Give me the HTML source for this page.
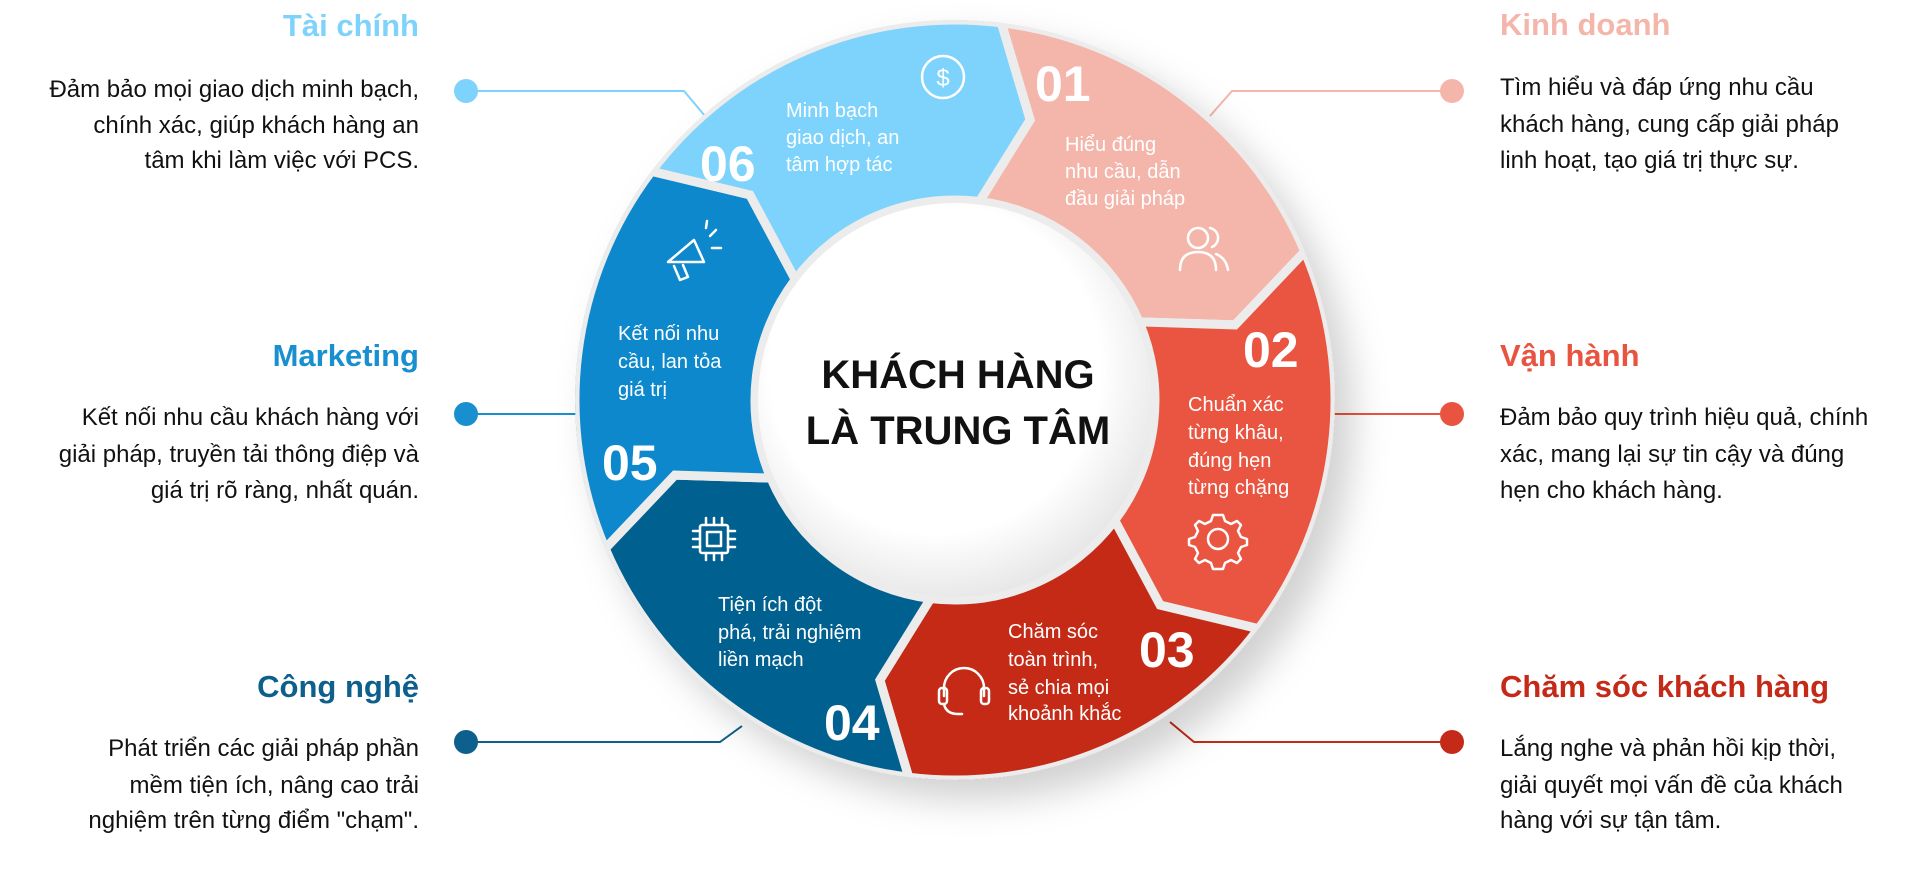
<!DOCTYPE html>
<html><head><meta charset="utf-8"><style>
html,body{margin:0;padding:0;background:#fff;}
svg{display:block;}
text{font-family:"Liberation Sans",sans-serif;}
.t{font-size:31px;font-weight:bold;}
.b{font-size:24px;fill:#111;}
.w{fill:#fff;font-size:20px;}
.n{fill:#fff;font-size:50px;font-weight:bold;}
.ic{fill:none;stroke:#fff;stroke-width:2.5;stroke-linecap:round;stroke-linejoin:round;}
</style></head><body>
<svg width="1920" height="891" viewBox="0 0 1920 891" xmlns="http://www.w3.org/2000/svg">
<defs>
<filter id="sh" x="-20%" y="-20%" width="150%" height="150%"><feDropShadow dx="18" dy="20" stdDeviation="18" flood-color="#000" flood-opacity="0.18"/></filter>
<radialGradient id="cg" cx="0.45" cy="0.42" r="0.6"><stop offset="0.7" stop-color="#fff"/><stop offset="1" stop-color="#e6e6e6"/></radialGradient>
<clipPath id="rc"><circle cx="955" cy="400" r="380"/></clipPath>
</defs>
<!-- connectors -->
<g fill="none" stroke-width="2">
<polyline points="466,91 684,91 705,116" stroke="#7dd3fb"/>
<polyline points="466,414 580,414" stroke="#1a8fd0"/>
<polyline points="466,742 720,742 742,726" stroke="#0d5f8c"/>
<polyline points="1452,91 1232,91 1210,116" stroke="#f4b6ab"/>
<polyline points="1452,414 1330,414" stroke="#e95440"/>
<polyline points="1452,742 1194,742 1170,722" stroke="#c42a17"/>
</g>
<circle cx="466" cy="91" r="12" fill="#7dd3fb"/>
<circle cx="466" cy="414" r="12" fill="#1a8fd0"/>
<circle cx="466" cy="742" r="12" fill="#0d5f8c"/>
<circle cx="1452" cy="91" r="12" fill="#f4b6ab"/>
<circle cx="1452" cy="414" r="12" fill="#e95440"/>
<circle cx="1452" cy="742" r="12" fill="#c42a17"/>
<!-- ring -->
<g filter="url(#sh)"><g clip-path="url(#rc)" stroke="#ececec" stroke-width="9" stroke-linejoin="miter">
<path fill="#f4b6ab" d="M1001.3,22.8 A380,380 0 0 1 1304.8,251.5 L1235.1,324.9 L1139.1,321.9 A200,200 0 0 0 979.4,201.5 L1030.1,119.9 Z"/>
<path fill="#e95440" d="M1304.8,251.5 A380,380 0 0 1 1258.5,628.7 L1160.1,605.1 L1114.7,520.4 A200,200 0 0 0 1139.1,321.9 L1235.1,324.9 Z"/>
<path fill="#c42a17" d="M1258.5,628.7 A380,380 0 0 1 908.7,777.2 L879.9,680.1 L930.6,598.5 A200,200 0 0 0 1114.7,520.4 L1160.1,605.1 Z"/>
<path fill="#06608f" d="M908.7,777.2 A380,380 0 0 1 605.2,548.5 L674.9,475.1 L770.9,478.1 A200,200 0 0 0 930.6,598.5 L879.9,680.1 Z"/>
<path fill="#0a88cc" d="M605.2,548.5 A380,380 0 0 1 651.5,171.3 L749.9,194.9 L795.3,279.6 A200,200 0 0 0 770.9,478.1 L674.9,475.1 Z"/>
<path fill="#7dd3fb" d="M651.5,171.3 A380,380 0 0 1 1001.3,22.8 L1030.1,119.9 L979.4,201.5 A200,200 0 0 0 795.3,279.6 L749.9,194.9 Z"/>
</g></g>
<circle cx="955" cy="400" r="197" fill="url(#cg)"/>
<text x="958" y="388" text-anchor="middle" font-size="40" font-weight="bold" fill="#111">KHÁCH HÀNG</text>
<text x="958" y="444" text-anchor="middle" font-size="40" font-weight="bold" fill="#111">LÀ TRUNG TÂM</text>
<!-- segment numbers -->
<text class="n" x="1035" y="101">01</text>
<text class="n" x="1243" y="367">02</text>
<text class="n" x="1139" y="667">03</text>
<text class="n" x="824" y="740">04</text>
<text class="n" x="602" y="480">05</text>
<text class="n" x="700" y="181">06</text>
<!-- segment texts -->
<text class="w"><tspan x="1065" y="151">Hiểu đúng</tspan><tspan x="1065" y="178">nhu cầu, dẫn</tspan><tspan x="1065" y="205">đầu giải pháp</tspan></text>
<text class="w"><tspan x="1188" y="411">Chuẩn xác</tspan><tspan x="1188" y="439">từng khâu,</tspan><tspan x="1188" y="467">đúng hẹn</tspan><tspan x="1188" y="494">từng chặng</tspan></text>
<text class="w"><tspan x="1008" y="638">Chăm sóc</tspan><tspan x="1008" y="666">toàn trình,</tspan><tspan x="1008" y="694">sẻ chia mọi</tspan><tspan x="1008" y="720">khoảnh khắc</tspan></text>
<text class="w"><tspan x="718" y="611">Tiện ích đột</tspan><tspan x="718" y="639">phá, trải nghiệm</tspan><tspan x="718" y="666">liền mạch</tspan></text>
<text class="w"><tspan x="618" y="340">Kết nối nhu</tspan><tspan x="618" y="368">cầu, lan tỏa</tspan><tspan x="618" y="396">giá trị</tspan></text>
<text class="w"><tspan x="786" y="117">Minh bạch</tspan><tspan x="786" y="144">giao dịch, an</tspan><tspan x="786" y="171">tâm hợp tác</tspan></text>
<!-- icons -->
<g class="ic">
<circle cx="943" cy="77" r="21"/>
<text x="943" y="86" text-anchor="middle" font-size="24" fill="#fff" stroke="none">$</text>
<circle cx="1198" cy="238" r="10"/><path d="M1180,270 q0,-18 18,-18 q18,0 18,18"/><path d="M1210,228 a10,10 0 0 1 2,19 M1216,254 q10,4 12,16"/>
<circle cx="1218" cy="539" r="10"/><path d="M1218,515 l5,0 2,6 6,3 6,-3 4,4 -3,6 3,6 6,2 0,6 -6,2 -3,6 3,6 -4,4 -6,-3 -6,3 -2,6 -10,0 -2,-6 -6,-3 -6,3 -4,-4 3,-6 -3,-6 -6,-2 0,-6 6,-2 3,-6 -3,-6 4,-4 6,3 6,-3 2,-6 z"/>
<path d="M944,696 v-8 a20,20 0 0 1 40,0 v8"/><rect x="939" y="688" width="8" height="16" rx="3"/><rect x="981" y="688" width="8" height="16" rx="3"/><path d="M944,704 q2,10 14,10 h4"/>
<rect x="700" y="525" width="28" height="28" rx="2"/><rect x="707" y="532" width="14" height="14"/><path d="M706,518 v7 M714,518 v7 M722,518 v7 M706,553 v7 M714,553 v7 M722,553 v7 M693,531 h7 M693,539 h7 M693,547 h7 M728,531 h7 M728,539 h7 M728,547 h7"/>
<path d="M668,262 l26,-22 10,22 z M674,266 l6,14 8,-3 -5,-12"/><path d="M710,236 l6,-6 M712,248 l9,0 M706,228 l1,-7"/>
</g>
<!-- left side -->
<g text-anchor="end">
<text class="t" x="419" y="36" fill="#7dd3fb">Tài chính</text>
<text class="b"><tspan x="419" y="97">Đảm bảo mọi giao dịch minh bạch,</tspan><tspan x="419" y="133">chính xác, giúp khách hàng an</tspan><tspan x="419" y="168">tâm khi làm việc với PCS.</tspan></text>
<text class="t" x="419" y="366" fill="#1a8fd0">Marketing</text>
<text class="b"><tspan x="419" y="425">Kết nối nhu cầu khách hàng với</tspan><tspan x="419" y="462">giải pháp, truyền tải thông điệp và</tspan><tspan x="419" y="498">giá trị rõ ràng, nhất quán.</tspan></text>
<text class="t" x="419" y="697" fill="#0d5f8c">Công nghệ</text>
<text class="b"><tspan x="419" y="756">Phát triển các giải pháp phần</tspan><tspan x="419" y="793">mềm tiện ích, nâng cao trải</tspan><tspan x="419" y="828">nghiệm trên từng điểm "chạm".</tspan></text>
</g>
<!-- right side -->
<text class="t" x="1500" y="35" fill="#f4b6ab">Kinh doanh</text>
<text class="b"><tspan x="1500" y="95">Tìm hiểu và đáp ứng nhu cầu</tspan><tspan x="1500" y="132">khách hàng, cung cấp giải pháp</tspan><tspan x="1500" y="168">linh hoạt, tạo giá trị thực sự.</tspan></text>
<text class="t" x="1500" y="366" fill="#e95440">Vận hành</text>
<text class="b"><tspan x="1500" y="425">Đảm bảo quy trình hiệu quả, chính</tspan><tspan x="1500" y="462">xác, mang lại sự tin cậy và đúng</tspan><tspan x="1500" y="498">hẹn cho khách hàng.</tspan></text>
<text class="t" x="1500" y="697" fill="#c42a17">Chăm sóc khách hàng</text>
<text class="b"><tspan x="1500" y="756">Lắng nghe và phản hồi kịp thời,</tspan><tspan x="1500" y="793">giải quyết mọi vấn đề của khách</tspan><tspan x="1500" y="828">hàng với sự tận tâm.</tspan></text>
</svg>
</body></html>
